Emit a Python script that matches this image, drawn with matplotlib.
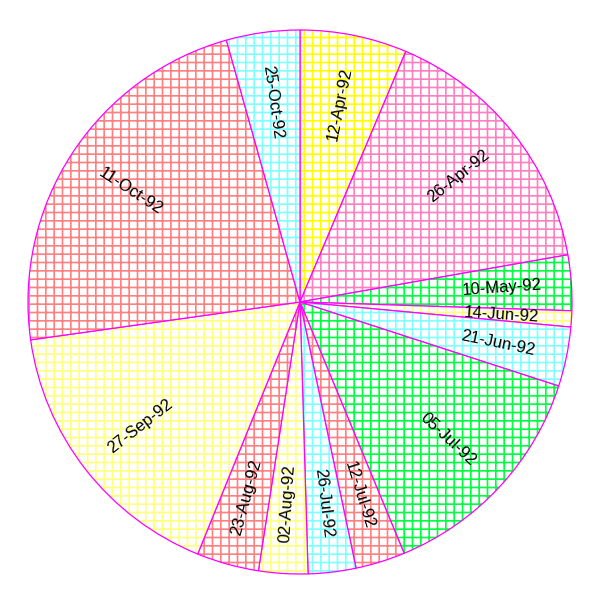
import matplotlib
matplotlib.use('Agg')
import matplotlib.pyplot as plt
from matplotlib.patches import Wedge
import numpy as np

# fechas y porcion de cada una (grados)
labels = ['12-Apr-92', '26-Apr-92', '10-May-92', '14-Jun-92', '21-Jun-92',
          '05-Jul-92', '12-Jul-92', '26-Jul-92', '02-Aug-92', '23-Aug-92',
          '27-Sep-92', '11-Oct-92', '25-Oct-92']
values = [22.9, 57.1, 11.85, 3.45, 12.7, 49.5, 10.6, 10.2, 10.5, 13.3,
          59.9, 82.3, 15.7]
colors = ['#ffff00', '#ff80c0', '#00ff40', '#ffff80', '#80ffff',
          '#00ff40', '#ff8080', '#80ffff', '#ffff80', '#ff8080',
          '#ffff80', '#ff8080', '#80ffff']

plt.rcParams['font.family'] = ['Liberation Sans', 'DejaVu Sans']
plt.rcParams['hatch.linewidth'] = 1.2

fig = plt.figure(figsize=(6, 6), dpi=100)
ax = fig.add_axes([0, 0, 1, 1])
R = 272.0
cx, cy = 300.0, 302.0
ax.set_xlim(-cx / R, (600 - cx) / R)
ax.set_ylim(-(600 - cy) / R, cy / R)
ax.set_aspect('equal')
ax.axis('off')

vals = np.array(values, dtype=float)
edges = np.concatenate([[0], np.cumsum(vals) / vals.sum() * 360.0])

for i, lab in enumerate(labels):
    a0, a1 = edges[i], edges[i + 1]
    # sentido horario desde las 12
    t1, t2 = 90 - a1, 90 - a0
    ax.add_patch(Wedge((0, 0), 1, t1, t2, facecolor='white',
                       edgecolor=colors[i], hatch='++', linewidth=0))
    ax.add_patch(Wedge((0, 0), 1, t1, t2, fill=False,
                       edgecolor='#ff00ff', linewidth=0.9))
    mid = np.deg2rad(90 - (a0 + a1) / 2)
    rot = np.rad2deg(mid)
    if rot > 90:
        rot -= 180
    elif rot <= -90:
        rot += 180
    d = 0.743
    ax.text(d * np.cos(mid), d * np.sin(mid), lab, rotation=rot,
            rotation_mode='anchor', ha='center', va='center', fontsize=12)

fig.savefig('out.png', dpi=100)
